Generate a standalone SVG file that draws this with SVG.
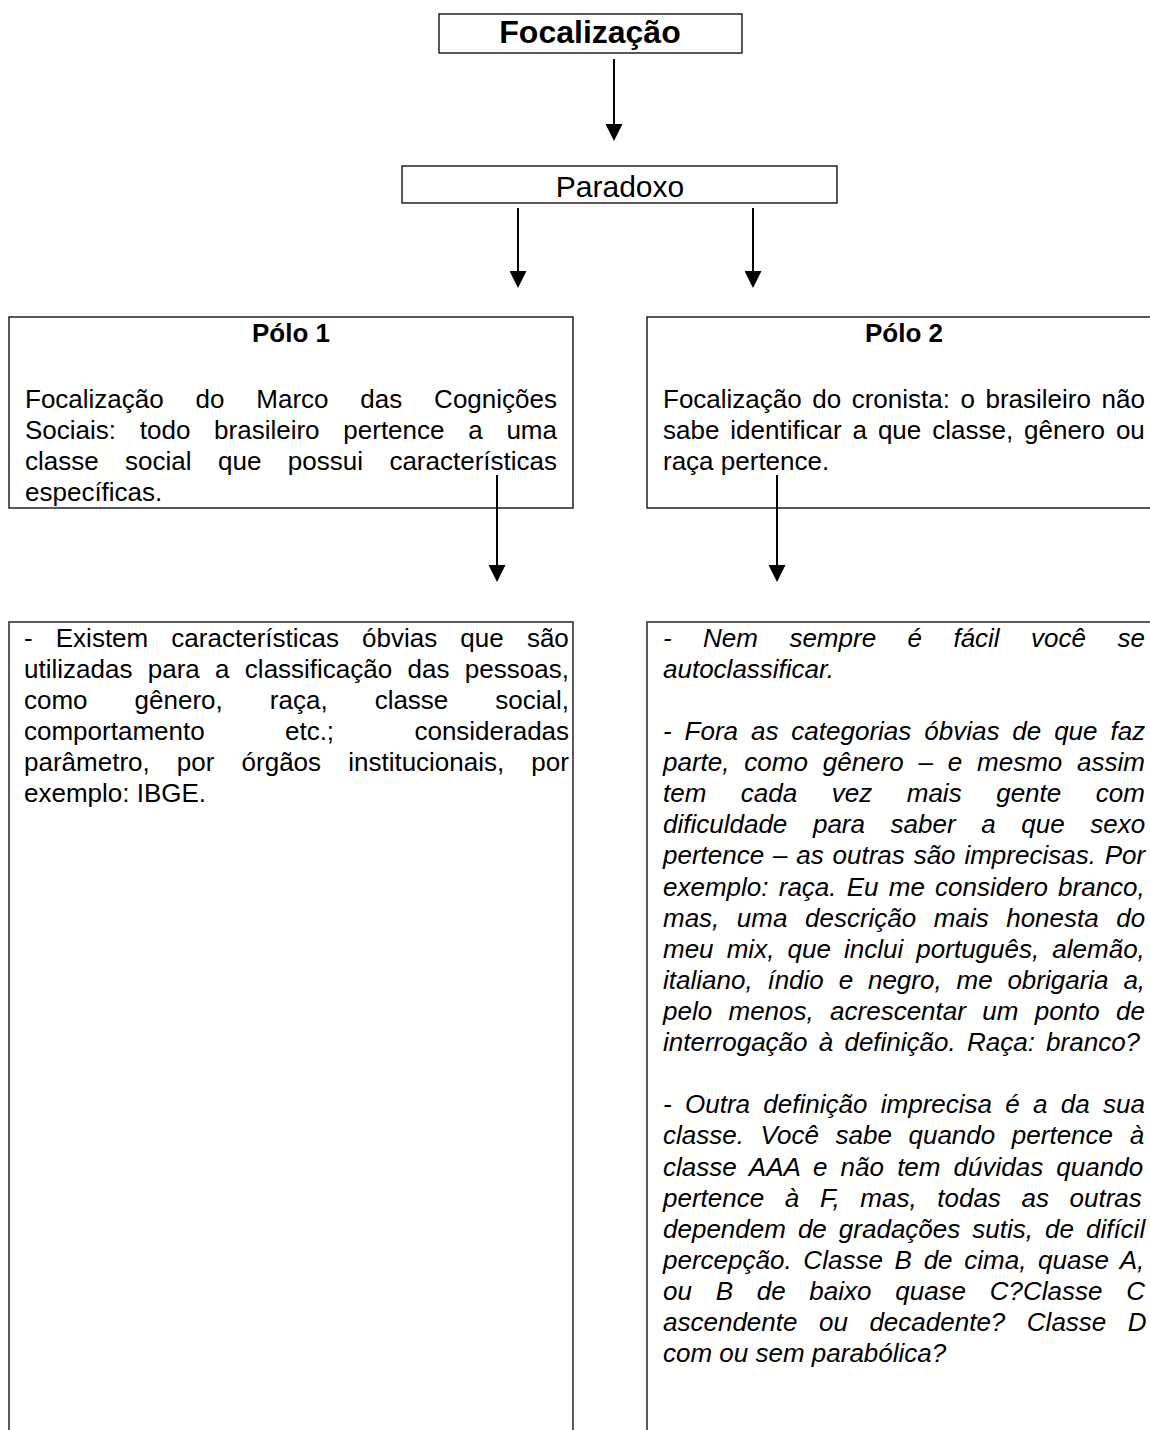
<svg xmlns="http://www.w3.org/2000/svg" width="1150" height="1430" viewBox="0 0 1150 1430">
<style>
.box{fill:#fff;stroke:#000;stroke-width:1.3}
.box2{fill:#fff;stroke:#333;stroke-width:1.6}
.t{font-family:"Liberation Sans",Arial,sans-serif;font-size:26px;fill:#000}
.it{font-style:italic}
.b{font-weight:bold}
.c{text-anchor:middle}
.con{stroke:#000;stroke-width:2;fill:none;marker-end:url(#ah)}
</style>
<defs>
<marker id="ah" markerWidth="17" markerHeight="17" refX="9" refY="8.5" orient="auto" markerUnits="userSpaceOnUse"><path d="M0,0 L17,8.5 L0,17 Z" fill="#000"/></marker>
</defs>
<rect width="1150" height="1430" fill="#fff"/>

<g id="focalizacao">
<rect class="box" x="439" y="14" width="303" height="39"/>
<text class="t b c" x="590" y="43" style="font-size:32px">Focalização</text>
</g>

<g id="paradoxo">
<rect class="box" x="402" y="166" width="435" height="37"/>
<text class="t c" x="620" y="197" style="font-size:30px">Paradoxo</text>
</g>

<g id="polo1">
<rect class="box" x="9" y="317" width="564" height="191"/>
<text class="t b c" x="291" y="342">Pólo 1</text>
<text class="t" x="25" y="408" style="word-spacing:24.6px">Focalização do Marco das Cognições</text>
<text class="t" x="25" y="439" style="word-spacing:16.5px">Sociais: todo brasileiro pertence a uma</text>
<text class="t" x="25" y="470" style="word-spacing:19.2px">classe social que possui características</text>
<text class="t" x="25" y="501">específicas.</text>
</g>

<g id="polo2">
<rect class="box" x="647" y="317" width="514" height="191"/>
<text class="t b c" x="904" y="342">Pólo 2</text>
<text class="t" x="663" y="408" style="word-spacing:3.3px">Focalização do cronista: o brasileiro não</text>
<text class="t" x="663" y="439" style="word-spacing:3.7px">sabe identificar a que classe, gênero ou</text>
<text class="t" x="663" y="470">raça pertence.</text>
</g>

<g id="detalhe1">
<rect class="box2" x="9" y="622" width="564" height="830"/>
<text class="t" x="24" y="647" style="word-spacing:15.9px">- Existem características óbvias que são</text>
<text class="t" x="24" y="678" style="word-spacing:8.1px">utilizadas para a classificação das pessoas,</text>
<text class="t" x="24" y="709" style="word-spacing:39.8px">como gênero, raça, classe social,</text>
<text class="t" x="24" y="740" style="word-spacing:73.1px">comportamento etc.; consideradas</text>
<text class="t" x="24" y="771" style="word-spacing:19.9px">parâmetro, por órgãos institucionais, por</text>
<text class="t" x="24" y="802">exemplo: IBGE.</text>
</g>

<g id="detalhe2">
<rect class="box2" x="647" y="622" width="514" height="830"/>
<text class="t it" x="663" y="647" style="word-spacing:24.2px">- Nem sempre é fácil você se</text>
<text class="t it" x="663" y="678">autoclassificar.</text>
<text class="t it" x="663" y="740" style="word-spacing:5.7px">- Fora as categorias óbvias de que faz</text>
<text class="t it" x="663" y="771" style="word-spacing:7.6px">parte, como gênero – e mesmo assim</text>
<text class="t it" x="663" y="802" style="word-spacing:27.3px">tem cada vez mais gente com</text>
<text class="t it" x="663" y="833" style="word-spacing:18.4px">dificuldade para saber a que sexo</text>
<text class="t it" x="663" y="864" style="word-spacing:1.6px">pertence – as outras são imprecisas. Por</text>
<text class="t it" x="663" y="896" style="word-spacing:3px">exemplo: raça. Eu me considero branco,</text>
<text class="t it" x="663" y="927" style="word-spacing:10.3px">mas, uma descrição mais honesta do</text>
<text class="t it" x="663" y="958" style="word-spacing:5.9px">meu mix, que inclui português, alemão,</text>
<text class="t it" x="663" y="989" style="word-spacing:7.6px">italiano, índio e negro, me obrigaria a,</text>
<text class="t it" x="663" y="1020" style="word-spacing:9.1px">pelo menos, acrescentar um ponto de</text>
<text class="t it" x="663" y="1051" style="word-spacing:4px">interrogação à definição. Raça: branco?</text>
<text class="t it" x="663" y="1113" style="word-spacing:6.1px">- Outra definição imprecisa é a da sua</text>
<text class="t it" x="663" y="1144" style="word-spacing:9.4px">classe. Você sabe quando pertence à</text>
<text class="t it" x="663" y="1176" style="word-spacing:5.9px">classe AAA e não tem dúvidas quando</text>
<text class="t it" x="663" y="1207" style="word-spacing:13.4px">pertence à F, mas, todas as outras</text>
<text class="t it" x="663" y="1238" style="word-spacing:4.8px">dependem de gradações sutis, de difícil</text>
<text class="t it" x="663" y="1269" style="word-spacing:4.5px">percepção. Classe B de cima, quase A,</text>
<text class="t it" x="663" y="1300" style="word-spacing:16.5px">ou B de baixo quase C?Classe C</text>
<text class="t it" x="663" y="1331" style="word-spacing:14.3px">ascendente ou decadente? Classe D</text>
<text class="t it" x="663" y="1362">com ou sem parabólica?</text>
</g>

<g id="connectors">
<line class="con" x1="614" y1="59" x2="614" y2="133"/>
<line class="con" x1="518" y1="208" x2="518" y2="280"/>
<line class="con" x1="753" y1="208" x2="753" y2="280"/>
<line class="con" x1="497" y1="475" x2="497" y2="574"/>
<line class="con" x1="777" y1="475" x2="777" y2="574"/>
</g>
</svg>
